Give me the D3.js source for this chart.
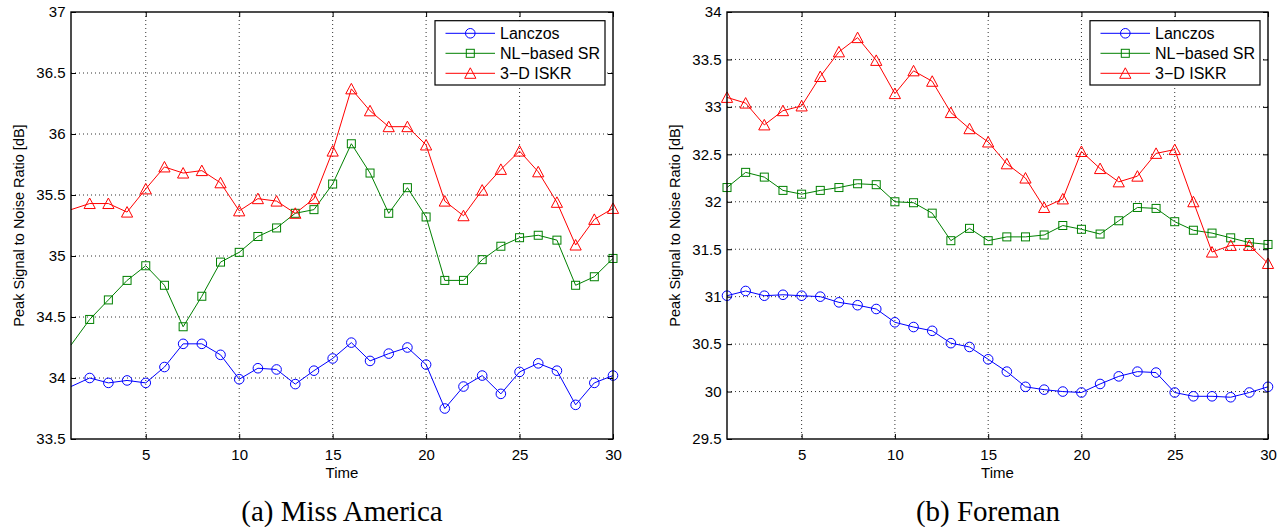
<!DOCTYPE html>
<html><head><meta charset="utf-8">
<script src="https://cdn.jsdelivr.net/npm/d3@7"></script>
<style>body{margin:0;background:#fff} svg{display:block}</style>
</head><body>
<svg id="c" width="1285" height="527"></svg>
<script>
// ---- data ----
const time = d3.range(1, 31);
const xTicks = [5, 10, 15, 20, 25, 30];
const seriesNames = ["Lanczos", "NL\u2212based SR", "3\u2212D ISKR"];
const seriesColors = ["#0000ff", "#008000", "#ff0000"];
const seriesMarkers = ["circle", "square", "triangle"];

const missYTicks = [33.5, 34, 34.5, 35, 35.5, 36, 36.5, 37];
const missLanczos = [33.93, 34.00, 33.96, 33.98, 33.96, 34.09, 34.28, 34.28, 34.19, 33.99, 34.08, 34.07, 33.95, 34.06, 34.16, 34.29, 34.14, 34.20, 34.25, 34.11, 33.75, 33.93, 34.02, 33.87, 34.05, 34.12, 34.06, 33.78, 33.96, 34.02];
const missNL = [34.27, 34.48, 34.64, 34.80, 34.92, 34.76, 34.42, 34.67, 34.95, 35.03, 35.16, 35.23, 35.35, 35.38, 35.59, 35.92, 35.68, 35.35, 35.56, 35.32, 34.80, 34.80, 34.97, 35.08, 35.15, 35.17, 35.13, 34.76, 34.83, 34.98];
const missISKR = [35.38, 35.43, 35.43, 35.36, 35.55, 35.73, 35.68, 35.70, 35.60, 35.37, 35.47, 35.45, 35.35, 35.47, 35.86, 36.37, 36.19, 36.06, 36.06, 35.91, 35.45, 35.33, 35.54, 35.71, 35.86, 35.69, 35.44, 35.09, 35.30, 35.39];

const foreYTicks = [29.5, 30, 30.5, 31, 31.5, 32, 32.5, 33, 33.5, 34];
const foreLanczos = [31.01, 31.06, 31.01, 31.02, 31.01, 31.00, 30.94, 30.91, 30.87, 30.73, 30.68, 30.64, 30.51, 30.47, 30.34, 30.21, 30.05, 30.02, 30.00, 29.99, 30.08, 30.16, 30.21, 30.20, 29.99, 29.95, 29.95, 29.94, 29.99, 30.05];
const foreNL = [32.15, 32.31, 32.26, 32.12, 32.08, 32.12, 32.15, 32.19, 32.18, 32.00, 31.99, 31.88, 31.59, 31.72, 31.59, 31.63, 31.63, 31.65, 31.75, 31.71, 31.66, 31.80, 31.94, 31.93, 31.79, 31.70, 31.67, 31.62, 31.57, 31.55];
const foreISKR = [33.10, 33.04, 32.81, 32.96, 33.01, 33.32, 33.58, 33.73, 33.49, 33.14, 33.38, 33.27, 32.94, 32.77, 32.63, 32.40, 32.25, 31.94, 32.03, 32.53, 32.35, 32.21, 32.27, 32.51, 32.55, 32.00, 31.47, 31.54, 31.54, 31.35];

const xLabel = "Time";
const yLabel = "Peak Signal to Noise Ratio [dB]";
const captions = ["(a) Miss America", "(b) Foreman"];

// ---- drawing ----
const svg = d3.select("#c");
const SANS = "'Liberation Sans', Arial, sans-serif";
const SERIF = "'Liberation Serif', 'Times New Roman', serif";

const panels = [
  { left: 71, right: 613, top: 12, bottom: 439, yTicks: missYTicks, series: [missLanczos, missNL, missISKR], caption: captions[0], capX: 342, firstMarker: false },
  { left: 727, right: 1268, top: 12, bottom: 439, yTicks: foreYTicks, series: [foreLanczos, foreNL, foreISKR], caption: captions[1], capX: 988, firstMarker: true }
];

function marker(sel, type, color) {
  if (type === "circle") {
    sel.append("circle").attr("r", 4.8).attr("fill", "none").attr("stroke", color).attr("stroke-width", 1);
  } else if (type === "square") {
    sel.append("rect").attr("x", -4).attr("y", -4).attr("width", 8).attr("height", 8)
      .attr("fill", "none").attr("stroke", color).attr("stroke-width", 1);
  } else {
    sel.append("path").attr("d", "M0,-5.5L5.6,5L-5.6,5Z").attr("fill", "none").attr("stroke", color).attr("stroke-width", 1);
  }
}

panels.forEach((p, pi) => {
  const x = d3.scaleLinear().domain([1, 30]).range([p.left, p.right]);
  const yDom = d3.extent(p.yTicks);
  const y = d3.scaleLinear().domain(yDom).range([p.bottom, p.top]);
  const g = svg.append("g");

  // grid
  const grid = g.append("g").attr("stroke", "#333").attr("stroke-width", 1).attr("stroke-dasharray", "1,3");
  xTicks.filter(t => t > 1 && t < 30).forEach(t => {
    grid.append("line").attr("x1", x(t)).attr("x2", x(t)).attr("y1", p.top).attr("y2", p.bottom);
  });
  p.yTicks.filter(t => t > yDom[0] && t < yDom[1]).forEach(t => {
    grid.append("line").attr("x1", p.left).attr("x2", p.right).attr("y1", y(t)).attr("y2", y(t));
  });

  // axes (inside ticks)
  const fmt = d3.format("~g");
  const ax = g.append("g").attr("transform", `translate(0,${p.bottom})`)
    .call(d3.axisBottom(x).tickValues(xTicks).tickFormat(fmt).tickSizeInner(-5).tickSizeOuter(0).tickPadding(10));
  const ay = g.append("g").attr("transform", `translate(${p.left},0)`)
    .call(d3.axisLeft(y).tickValues(p.yTicks).tickFormat(fmt).tickSizeInner(-5).tickSizeOuter(0).tickPadding(5.5));
  const at = g.append("g").attr("transform", `translate(0,${p.top})`)
    .call(d3.axisTop(x).tickValues(xTicks).tickFormat("").tickSizeInner(-5).tickSizeOuter(0));
  const ar = g.append("g").attr("transform", `translate(${p.right},0)`)
    .call(d3.axisRight(y).tickValues(p.yTicks).tickFormat("").tickSizeInner(-5).tickSizeOuter(0));
  [ax, ay, at, ar].forEach(a => {
    a.select(".domain").remove();
    a.selectAll("line").attr("stroke", "#000").attr("stroke-width", 1);
    a.selectAll("text").attr("font-family", SANS).attr("font-size", 15).attr("fill", "#000");
  });

  // series
  p.series.forEach((vals, si) => {
    const pts = time.map((t, i) => [t, vals[i]]);
    g.append("path").datum(pts)
      .attr("fill", "none").attr("stroke", seriesColors[si]).attr("stroke-width", 1)
      .attr("d", d3.line().x(d => x(d[0])).y(d => y(d[1])));
    const mk = g.append("g");
    pts.forEach((d, i) => {
      if (i === 0 && !p.firstMarker) return;
      const m = mk.append("g").attr("transform", `translate(${x(d[0])},${y(d[1])})`);
      marker(m, seriesMarkers[si], seriesColors[si]);
    });
  });

  // box
  g.append("rect").attr("x", p.left).attr("y", p.top).attr("width", p.right - p.left).attr("height", p.bottom - p.top)
    .attr("fill", "none").attr("stroke", "#000").attr("stroke-width", 1.4);

  // legend
  const lg = g.append("g").attr("transform", `translate(${p.right - 178},${p.top + 8.7})`);
  lg.append("rect").attr("width", 170).attr("height", 64.3).attr("fill", "#fff").attr("stroke", "#000").attr("stroke-width", 1.2);
  seriesNames.forEach((name, si) => {
    const row = lg.append("g").attr("transform", `translate(0,${12.6 + si * 20})`);
    row.append("line").attr("x1", 10.5).attr("x2", 60).attr("stroke", seriesColors[si]).attr("stroke-width", 1);
    const m = row.append("g").attr("transform", "translate(35.3,0)");
    marker(m, seriesMarkers[si], seriesColors[si]);
    row.append("text").attr("x", 65).attr("dy", "0.36em").attr("font-family", SANS).attr("font-size", 16).attr("fill", "#000").text(name);
  });

  // axis labels
  g.append("text").attr("x", (p.left + p.right) / 2).attr("y", 478).attr("text-anchor", "middle")
    .attr("font-family", SANS).attr("font-size", 15).attr("fill", "#000").text(xLabel);
  g.append("text").attr("transform", `translate(${p.left - 47},${(p.top + p.bottom) / 2}) rotate(-90)`)
    .attr("text-anchor", "middle").attr("font-family", SANS).attr("font-size", 14.5).attr("fill", "#000").text(yLabel);

  // caption
  g.append("text").attr("x", p.capX).attr("y", 521).attr("text-anchor", "middle")
    .attr("font-family", SERIF).attr("font-size", 29).attr("fill", "#000").text(p.caption);
});
</script>
</body></html>
